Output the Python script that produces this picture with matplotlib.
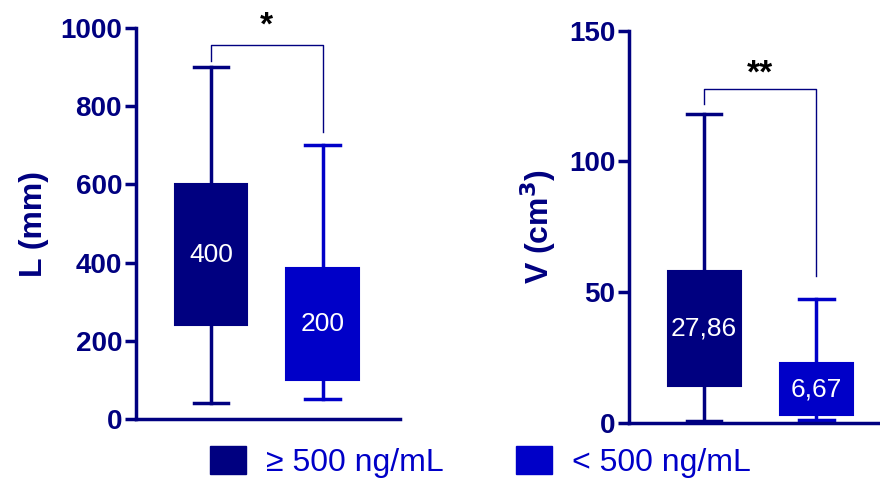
import matplotlib
matplotlib.use("Agg")
import matplotlib.pyplot as plt
from matplotlib.patches import Patch

plt.rcParams['font.family'] = ['Liberation Sans', 'DejaVu Sans']

groups = ["≥ 500 ng/mL", "< 500 ng/mL"]
colors = ["#000080", "#0000C8"]

# Panel L (mm)
L_whislo = [40, 50]
L_q1 = [240, 100]
L_med = [400, 200]
L_q3 = [600, 385]
L_whishi = [900, 700]
L_labels = ["400", "200"]

# Panel V (cm3)
V_whislo = [0.8, 1.0]
V_q1 = [14.2, 2.9]
V_med = [27.86, 6.67]
V_q3 = [58, 22.7]
V_whishi = [118, 47.2]
V_labels = ["27,86", "6,67"]

NAVY = "#000080"

fig = plt.figure(figsize=(8.8, 4.79), dpi=100)
axL = fig.add_axes([0.1545, 0.1253, 0.30, 0.8162])
axV = fig.add_axes([0.7148, 0.1175, 0.2852, 0.8185])


def draw(ax, lo, q1, med, q3, hi, labels, ylim, yticks, ylabel, xlim,
         bracket, star, star_y):
    stats = []
    for i in range(2):
        stats.append(dict(whislo=lo[i], q1=q1[i], med=med[i], q3=q3[i],
                          whishi=hi[i], fliers=[]))
    for i, st in enumerate(stats):
        c = colors[i]
        ax.bxp([st], positions=[i + 1], widths=0.65, patch_artist=True,
               showfliers=False,
               boxprops=dict(facecolor=c, edgecolor=c, linewidth=1.5),
               medianprops=dict(color=c, linewidth=1.5),
               whiskerprops=dict(color=c, linewidth=2.5),
               capprops=dict(color=c, linewidth=2.5),
               capwidths=0.31)
        ax.text(i + 1, (q1[i] + q3[i]) / 2, labels[i], color="white",
                fontsize=19, ha="center", va="center")
    ax.set_xlim(*xlim)
    ax.set_ylim(*ylim)
    ax.set_yticks(yticks)
    ax.set_xticks([])
    for s in ["top", "right"]:
        ax.spines[s].set_visible(False)
    for s in ["left", "bottom"]:
        ax.spines[s].set_color(NAVY)
        ax.spines[s].set_linewidth(2.5)
    ax.tick_params(axis="y", colors=NAVY, width=2.5, length=8,
                   labelsize=20, pad=2)
    for t in ax.get_yticklabels():
        t.set_fontweight("bold")
    ax.set_ylabel(ylabel, color=NAVY, fontsize=23, fontweight="bold",
                  labelpad=8)
    top, l_end, r_end = bracket
    ax.plot([1, 1, 2, 2], [l_end, top, top, r_end], color=NAVY,
            linewidth=1.0, clip_on=False)
    ax.text(1.5, star_y, star, color="black", fontsize=24,
            fontweight="bold", ha="center", va="center", clip_on=False)


draw(axL, L_whislo, L_q1, L_med, L_q3, L_whishi, L_labels,
     (0, 1000), [0, 200, 400, 600, 800, 1000], "L (mm)", (0.33, 2.69),
     (957, 916, 734), "*", 1005)
draw(axV, V_whislo, V_q1, V_med, V_q3, V_whishi, V_labels,
     (0, 150), [0, 50, 100, 150], r"V (cm$^\mathbf{3}$)", (0.33, 2.57),
     (127.6, 121.8, 56.1), "**", 133.5)

handles = [Patch(facecolor=colors[i], edgecolor=colors[i]) for i in range(2)]
leg = fig.legend(handles, groups, loc="center", bbox_to_anchor=(0.546, 0.035),
                 ncol=2, frameon=False, fontsize=23, handlelength=1.12,
                 handleheight=0.95, handletextpad=0.63, columnspacing=2.25,
                 borderpad=0, borderaxespad=0)
for t in leg.get_texts():
    t.set_color(colors[1])

fig.savefig("out.png", dpi=100)
